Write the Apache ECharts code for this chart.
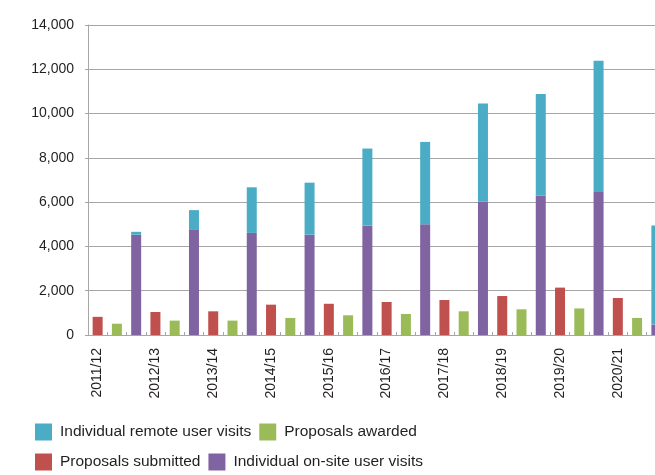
<!DOCTYPE html>
<html>
<head>
<meta charset="utf-8">
<script src="https://cdn.jsdelivr.net/npm/echarts@6/dist/echarts.min.js"></script>
<style>
  html, body { margin: 0; padding: 0; background: #ffffff; }
  #chart { width: 655px; height: 475px; }
</style>
</head>
<body>
<div id="chart"></div>
<script>
// Financial years shown on the category axis
const years = ['2011/12', '2012/13', '2013/14', '2014/15', '2015/16',
               '2016/17', '2017/18', '2018/19', '2019/20', '2020/21'];

// Proposals per year
const proposalsSubmitted = [820, 1040, 1070, 1370, 1410, 1490, 1580, 1760, 2140, 1670];
const proposalsAwarded   = [510, 650, 650, 770, 890, 950, 1070, 1160, 1200, 770];

// Individual user visits per year (stacked)
const onSiteVisits = [4530, 4780, 4610, 4530, 4950, 5000, 6030, 6300, 6460, 470];
const remoteVisits = [130, 860, 2060, 2350, 3470, 3720, 4430, 4580, 5930, 4480];

// Y axis ticks
const yTicks = { min: 0, max: 14000, step: 2000 };

const FONT = "'Liberation Sans', Arial, sans-serif";
const TEXT = '#231f20';
const GRID = '#a6a6a6';

const COLORS = {
  remote: '#4bacc6',
  awarded: '#9bbb59',
  submitted: '#c0504d',
  onsite: '#8064a2'
};

// Each year occupies three slots: submitted, awarded, visits (stacked)
const slots = [];
years.forEach(y => { slots.push(y + '|s', y + '|a', y + '|v'); });

function slotData(values, kind) {
  return slots.map(s => {
    const [y, k] = s.split('|');
    return k === kind ? values[years.indexOf(y)] : '-';
  });
}

const barBase = { type: 'bar', barWidth: 10, barGap: '-100%' };

const chart = echarts.init(document.getElementById('chart'), null, { renderer: 'canvas' });
chart.setOption({
  animation: false,
  backgroundColor: '#ffffff',
  textStyle: { fontFamily: FONT, color: TEXT },
  // the plot runs a little past the right edge of the canvas
  grid: { left: 88, top: 25, width: 578, height: 310, containLabel: false, outerBoundsMode: 'none' },
  legend: {
    left: 30,
    top: 416,
    width: 420,
    itemWidth: 17,
    itemHeight: 17,
    itemGap: 8,
    icon: 'rect',
    data: ['Individual remote user visits', 'Proposals awarded',
           'Proposals submitted', 'Individual on-site user visits'],
    textStyle: { fontFamily: FONT, fontSize: 15.5, color: TEXT, lineHeight: 22, padding: [0, 0, 0, 3] }
  },
  xAxis: {
    type: 'category',
    data: slots,
    boundaryGap: true,
    axisLine: { show: true, lineStyle: { color: GRID, width: 1 } },
    axisTick: { show: true, inside: true, length: 3, interval: 0, lineStyle: { color: GRID } },
    axisLabel: {
      interval: (i) => i % 3 === 0,
      rotate: 90,
      margin: 13,
      fontFamily: FONT,
      fontSize: 14,
      color: TEXT,
      formatter: (v) => v.split('|')[0]
    },
    splitLine: { show: false }
  },
  yAxis: {
    type: 'value',
    min: yTicks.min,
    max: yTicks.max,
    interval: yTicks.step,
    axisLine: { show: true, lineStyle: { color: GRID, width: 1 } },
    axisTick: { show: true, length: 3, lineStyle: { color: GRID } },
    splitLine: { show: true, lineStyle: { color: GRID, width: 1 } },
    axisLabel: {
      margin: 14,
      fontFamily: FONT,
      fontSize: 14,
      color: TEXT,
      formatter: (v) => v.toLocaleString('en-US')
    }
  },
  series: [
    Object.assign({}, barBase, {
      name: 'Proposals submitted',
      data: slotData(proposalsSubmitted, 's'),
      itemStyle: { color: COLORS.submitted }
    }),
    Object.assign({}, barBase, {
      name: 'Proposals awarded',
      data: slotData(proposalsAwarded, 'a'),
      itemStyle: { color: COLORS.awarded }
    }),
    Object.assign({}, barBase, {
      name: 'Individual on-site user visits',
      stack: 'visits',
      data: slotData(onSiteVisits, 'v'),
      itemStyle: { color: COLORS.onsite }
    }),
    Object.assign({}, barBase, {
      name: 'Individual remote user visits',
      stack: 'visits',
      data: slotData(remoteVisits, 'v'),
      itemStyle: { color: COLORS.remote }
    })
  ]
});
</script>
</body>
</html>
